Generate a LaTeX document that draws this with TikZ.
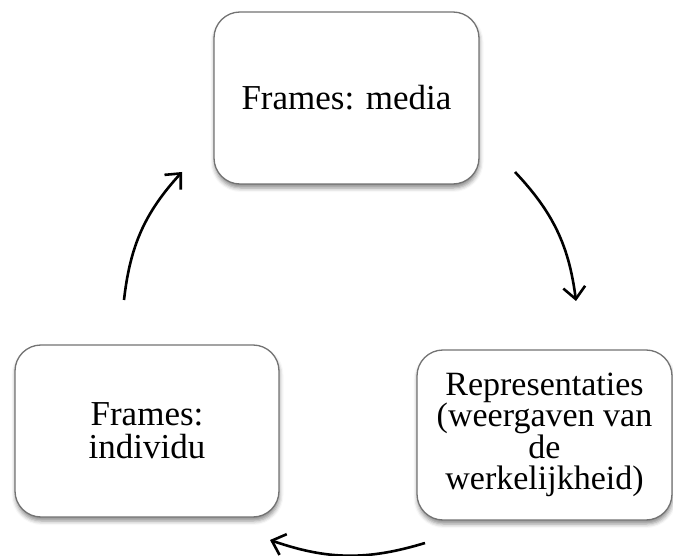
\documentclass[tikz,border=0pt]{standalone}
\usepackage{fontspec}
\setmainfont{Liberation Serif}
\usetikzlibrary{positioning,arrows.meta,shadows.blur}

\begin{document}
\begin{tikzpicture}[
    x=1pt, y=-1pt,
    framenode/.style={rectangle, rounded corners=26pt, draw=black!55, line width=1.3pt, fill=white,
        blur shadow={shadow xshift=0.5pt, shadow yshift=-4pt, shadow blur radius=4pt, shadow opacity=45},
        align=center, inner sep=0pt, font=\fontsize{35}{33}\selectfont},
    cyclearrow/.style={-{Straight Barb[length=12pt, width=22pt, line width=2.6pt]}, line width=2.6pt, bend left=18}
    ]
        \useasboundingbox (0,0) rectangle (673,556);

        %Nodes
        \node[framenode, minimum width=265pt, minimum height=172pt]
            (media)     at (346.5,98)   {Frames: media};
        \node[framenode, minimum width=255pt, minimum height=170pt, font=\fontsize{34}{31.5}\selectfont]
            (repr)      at (544.5,435)  {Representaties\\(weergaven van\\de\\werkelijkheid)};
        \node[framenode, minimum width=264pt, minimum height=172pt]
            (individu)  at (147,431)    {Frames:\\individu};

        %Arrow ends
        \coordinate (a1) at (515,172);
        \coordinate (b1) at (576,301);
        \coordinate (a2) at (425,543);
        \coordinate (b2) at (270,540);
        \coordinate (a3) at (124,300);
        \coordinate (b3) at (182,172);

        %Lines
        \draw[cyclearrow] (a1) to (b1);
        \draw[cyclearrow] (a2) to (b2);
        \draw[cyclearrow] (a3) to (b3);
\end{tikzpicture}
\end{document}
